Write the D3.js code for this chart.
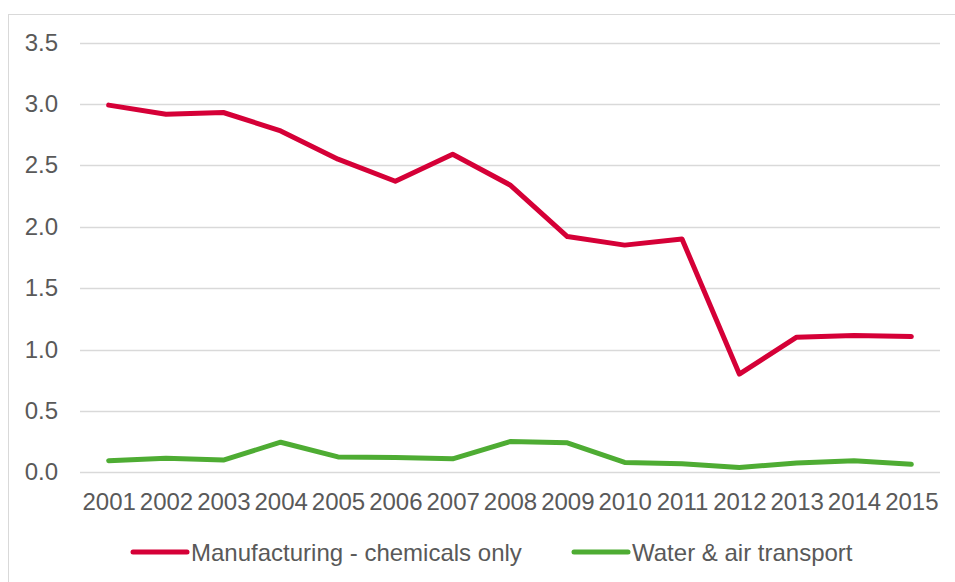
<!DOCTYPE html>
<html>
<head>
<meta charset="utf-8">
<script src="https://cdn.jsdelivr.net/npm/d3@7"></script>
<style>
  body { margin: 0; background: #fff; }
  svg text { font-family: "Liberation Sans", Arial, sans-serif; fill: #595959; }
</style>
</head>
<body>
<div id="chart"></div>
<script>
const years = ["2001","2002","2003","2004","2005","2006","2007","2008","2009","2010","2011","2012","2013","2014","2015"];
const chemicals = [2.99, 2.915, 2.93, 2.78, 2.55, 2.37, 2.59, 2.34, 1.92, 1.85, 1.90, 0.80, 1.10, 1.115, 1.105];
const transport = [0.095, 0.115, 0.10, 0.245, 0.125, 0.12, 0.11, 0.25, 0.24, 0.08, 0.07, 0.04, 0.075, 0.095, 0.065];
const yTicks = [0, 0.5, 1.0, 1.5, 2.0, 2.5, 3.0, 3.5];
const seriesNames = ["Manufacturing - chemicals only", "Water & air transport"];
const seriesColors = ["#D50037", "#4EAC33"];

const width = 955, height = 582;
const plot = {left: 80, right: 940, top: 42.5, bottom: 472.3};

const svg = d3.select("#chart").append("svg")
  .attr("width", width)
  .attr("height", height);

// outer chart border (runs off the right and bottom edges)
svg.append("rect")
  .attr("x", 8.5).attr("y", 14.5)
  .attr("width", 960).attr("height", 600)
  .attr("fill", "none")
  .attr("stroke", "#D9D9D9")
  .attr("stroke-width", 1);

const x = d3.scalePoint()
  .domain(years)
  .range([plot.left, plot.right])
  .padding(0.5);

const y = d3.scaleLinear()
  .domain([0, 3.5])
  .range([plot.bottom, plot.top]);

// gridlines
svg.append("g")
  .selectAll("line")
  .data(yTicks)
  .enter().append("line")
    .attr("x1", plot.left)
    .attr("x2", plot.right)
    .attr("y1", d => Math.round(y(d)) + 0.5)
    .attr("y2", d => Math.round(y(d)) + 0.5)
    .attr("stroke", "#D9D9D9")
    .attr("stroke-width", 1.5);

// y axis labels
const yAxis = svg.append("g")
  .attr("transform", "translate(" + plot.left + ",0)")
  .call(d3.axisLeft(y).tickValues(yTicks).tickFormat(d3.format(".1f")).tickSize(0).tickPadding(22));
yAxis.select(".domain").remove();
yAxis.selectAll("text").style("font-size", "24px").attr("fill", "#595959");

// x axis labels
const xAxis = svg.append("g")
  .attr("transform", "translate(0," + plot.bottom + ")")
  .call(d3.axisBottom(x).tickSize(0).tickPadding(21));
xAxis.select(".domain").remove();
xAxis.selectAll("text").style("font-size", "24px").attr("fill", "#595959");

const line = d3.line()
  .x((d, i) => x(years[i]))
  .y(d => y(d));

[chemicals, transport].forEach((s, k) => {
  svg.append("path")
    .datum(s)
    .attr("d", line)
    .attr("fill", "none")
    .attr("stroke", seriesColors[k])
    .attr("stroke-width", 5)
    .attr("stroke-linejoin", "round")
    .attr("stroke-linecap", "round");
});

// legend
const legendX = [133, 574];
const legendY = 552;
seriesNames.forEach((name, k) => {
  svg.append("line")
    .attr("x1", legendX[k]).attr("x2", legendX[k] + 54)
    .attr("y1", legendY).attr("y2", legendY)
    .attr("stroke", seriesColors[k])
    .attr("stroke-width", 5)
    .attr("stroke-linecap", "round");
  svg.append("text")
    .attr("x", legendX[k] + 58)
    .attr("y", legendY + 9)
    .style("font-size", "24px")
    .text(name);
});
</script>
</body>
</html>
